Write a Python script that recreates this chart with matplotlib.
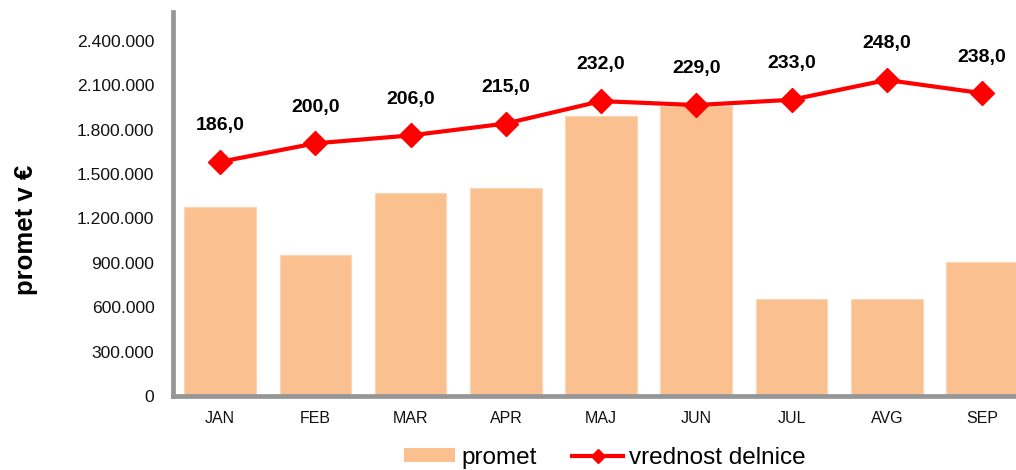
import matplotlib
matplotlib.use("Agg")
import matplotlib.pyplot as plt
from matplotlib import font_manager
from matplotlib.ticker import FixedLocator, FuncFormatter
from matplotlib.lines import Line2D
from matplotlib.patches import Patch

months = ["JAN", "FEB", "MAR", "APR", "MAJ", "JUN", "JUL", "AVG", "SEP"]
promet = [1279000, 953000, 1374000, 1407000, 1892000, 1959000, 655000, 657000, 905000]
delnica = [186.0, 200.0, 206.0, 215.0, 232.0, 229.0, 233.0, 248.0, 238.0]
yticks = [0, 300000, 600000, 900000, 1200000, 1500000, 1800000, 2100000, 2400000]

names = {f.name for f in font_manager.fontManager.ttflist}
if "Liberation Sans Narrow" in names:
    label_font, label_size = "Liberation Sans Narrow", 15
else:
    label_font, label_size = "Liberation Sans", 14
plt.rcParams["font.family"] = ["Liberation Sans", "DejaVu Sans"]

BAR = "#FAC090"
RED = "#FF0000"
GRAY = "#969696"

fig = plt.figure(figsize=(10.16, 4.70), dpi=100)
ax = fig.add_axes([172.5 / 1016, 1 - 396 / 470, (1029.7 - 172.5) / 1016, (396 - 12) / 470])
x = list(range(len(months)))
ax.bar(x, promet, width=0.753, color=BAR, edgecolor="#FCD5B4", linewidth=0.8, zorder=2)
ax.set_xlim(-0.5, len(months) - 0.5)
ax.set_ylim(0, 2.595e6)
ax.yaxis.set_major_locator(FixedLocator(yticks))
ax.yaxis.set_major_formatter(FuncFormatter(lambda v, p: f"{int(v):,}".replace(",", ".")))
ax.set_xticks(x)
ax.set_xticklabels(months)
ax.tick_params(axis="y", length=0, pad=13, labelsize=12.6, labelcolor="#111111")
ax.tick_params(axis="x", length=0, pad=11, labelsize=11.5, labelcolor="#111111")
for s in ["top", "right"]:
    ax.spines[s].set_visible(False)
for s in ["left", "bottom"]:
    ax.spines[s].set_color(GRAY)
    ax.spines[s].set_linewidth(3.4)
ax.set_ylabel("promet v €", fontsize=18.5, fontweight="bold")
ax.yaxis.set_label_coords(-135 / 857.2, 1 - (230 - 12) / 384)

ax2 = ax.twinx()
ax2.set_ylim(8.6, 299.5)
ax2.axis("off")
ax2.plot(x, delnica, color=RED, linewidth=3, marker="D", markersize=12.5,
         markerfacecolor=RED, markeredgecolor=RED, markeredgewidth=1, zorder=3, clip_on=False)
for xi, v in zip(x, delnica):
    ax2.annotate(f"{v:.1f}".replace(".", ","), (xi, v), xytext=(0, 26), textcoords="offset points",
                 ha="center", va="center", fontsize=label_size, fontweight="bold", family=label_font,
                 annotation_clip=False)

handles = [Patch(facecolor=BAR, edgecolor="none"),
           Line2D([0], [0], color=RED, linewidth=3, marker="D", markersize=7,
                  markerfacecolor=RED, markeredgecolor=RED)]
fig.legend(handles, ["promet", "vrednost delnice"], loc="center", bbox_to_anchor=(605 / 1016, 1 - 458 / 470),
           ncol=2, frameon=False, fontsize=17.5, handlelength=2.1, handleheight=0.5,
           handletextpad=0.25, columnspacing=1.45, borderpad=0, borderaxespad=0)

fig.savefig("out.png", dpi=100)
